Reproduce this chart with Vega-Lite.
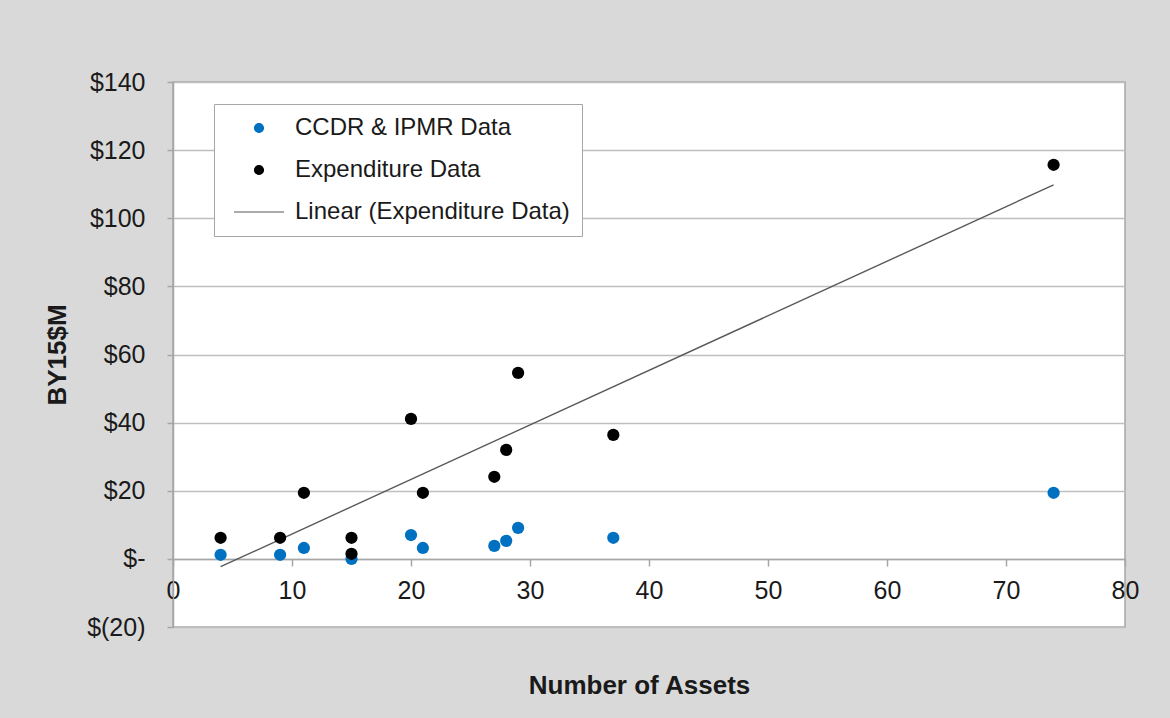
{
  "$schema": "https://vega.github.io/schema/vega-lite/v6.json",
  "autosize": "none",
  "width": 952,
  "height": 545,
  "padding": {"left": 173, "top": 82, "right": 45, "bottom": 91},
  "background": "#d9d9d9",
  "config": {
    "font": "Liberation Sans",
    "view": {"stroke": "#a6a6a6", "strokeWidth": 1.5, "fill": "white"},
    "axis": {
      "labelFont": "Liberation Sans",
      "labelFontSize": 25,
      "labelColor": "#1a1a1a",
      "titleFont": "Liberation Sans",
      "titleFontSize": 26,
      "titleFontWeight": "bold",
      "titleColor": "#1a1a1a",
      "domainColor": "#a6a6a6",
      "domainWidth": 1.5,
      "tickColor": "#a6a6a6",
      "tickWidth": 1.5,
      "gridColor": "#bfbfbf",
      "gridWidth": 1.5
    }
  },
  "datasets": {
    "points": [
      {"assets": 4, "value": 1.2, "series": "CCDR & IPMR Data"},
      {"assets": 9, "value": 1.2, "series": "CCDR & IPMR Data"},
      {"assets": 11, "value": 3.2, "series": "CCDR & IPMR Data"},
      {"assets": 15, "value": 0, "series": "CCDR & IPMR Data"},
      {"assets": 20, "value": 7.0, "series": "CCDR & IPMR Data"},
      {"assets": 21, "value": 3.2, "series": "CCDR & IPMR Data"},
      {"assets": 27, "value": 3.8, "series": "CCDR & IPMR Data"},
      {"assets": 28, "value": 5.3, "series": "CCDR & IPMR Data"},
      {"assets": 29, "value": 9.1, "series": "CCDR & IPMR Data"},
      {"assets": 37, "value": 6.2, "series": "CCDR & IPMR Data"},
      {"assets": 74, "value": 19.4, "series": "CCDR & IPMR Data"},
      {"assets": 4, "value": 6.2, "series": "Expenditure Data"},
      {"assets": 9, "value": 6.2, "series": "Expenditure Data"},
      {"assets": 11, "value": 19.4, "series": "Expenditure Data"},
      {"assets": 15, "value": 6.2, "series": "Expenditure Data"},
      {"assets": 15, "value": 1.5, "series": "Expenditure Data"},
      {"assets": 20, "value": 41.1, "series": "Expenditure Data"},
      {"assets": 21, "value": 19.4, "series": "Expenditure Data"},
      {"assets": 27, "value": 24.1, "series": "Expenditure Data"},
      {"assets": 28, "value": 32.0, "series": "Expenditure Data"},
      {"assets": 29, "value": 54.6, "series": "Expenditure Data"},
      {"assets": 37, "value": 36.4, "series": "Expenditure Data"},
      {"assets": 74, "value": 115.7, "series": "Expenditure Data"}
    ],
    "trend": [
      {"assets": 4, "value": -2.3, "series": "Linear (Expenditure Data)"},
      {"assets": 74, "value": 109.8, "series": "Linear (Expenditure Data)"}
    ]
  },
  "layer": [
    {
      "data": {"name": "trend"},
      "mark": {"type": "line", "strokeWidth": 1.4},
      "encoding": {
        "x": {"field": "assets", "type": "quantitative"},
        "y": {"field": "value", "type": "quantitative"},
        "color": {"field": "series", "type": "nominal"}
      }
    },
    {
      "data": {"name": "points"},
      "mark": {"type": "point", "filled": true, "size": 150, "opacity": 1},
      "encoding": {
        "x": {
          "field": "assets",
          "type": "quantitative",
          "scale": {"domain": [0, 80], "nice": false},
          "axis": {
            "values": [0, 10, 20, 30, 40, 50, 60, 70, 80],
            "grid": false,
            "offset": -68,
            "tickSize": 7,
            "labelPadding": 12,
            "labelFlush": false,
            "title": "Number of Assets",
            "titlePadding": 69,
            "titleX": 466,
            "titleAlign": "center"
          }
        },
        "y": {
          "field": "value",
          "type": "quantitative",
          "scale": {"domain": [-20, 140], "nice": false},
          "axis": {
            "values": [-20, 0, 20, 40, 60, 80, 100, 120, 140],
            "grid": true,
            "tickSize": 6,
            "labelPadding": 22,
            "labelExpr": "datum.value == 0 ? '$-' : (datum.value < 0 ? '$(' + abs(datum.value) + ')' : '$' + datum.value)",
            "title": "BY15$M",
            "titlePadding": 16
          }
        },
        "color": {
          "field": "series",
          "type": "nominal",
          "scale": {
            "domain": ["CCDR & IPMR Data", "Expenditure Data", "Linear (Expenditure Data)"],
            "range": ["#0070C0", "#000000", "#595959"]
          },
          "legend": {
            "title": null,
            "orient": "none",
            "legendX": 41,
            "legendY": 22,
            "fillColor": "white",
            "strokeColor": "#a6a6a6",
            "padding": 12,
            "labelFont": "Liberation Sans",
            "labelFontSize": 24,
            "labelColor": "#1a1a1a",
            "labelLimit": 500,
            "rowPadding": 18,
            "symbolSize": 80,
            "symbolOffset": 21,
            "labelOffset": 24,
            "symbolStrokeWidth": 1.2,
            "encode": {
              "symbols": {"update": {"stroke": {"scale": "color", "field": "value"}}}
            }
          }
        },
        "shape": {
          "field": "series",
          "type": "nominal",
          "scale": {
            "domain": ["CCDR & IPMR Data", "Expenditure Data", "Linear (Expenditure Data)"],
            "range": ["circle", "circle", "M-5.6,0H5.6"]
          },
          "legend": {
            "title": null,
            "orient": "none",
            "legendX": 41,
            "legendY": 22
          }
        }
      }
    }
  ]
}
